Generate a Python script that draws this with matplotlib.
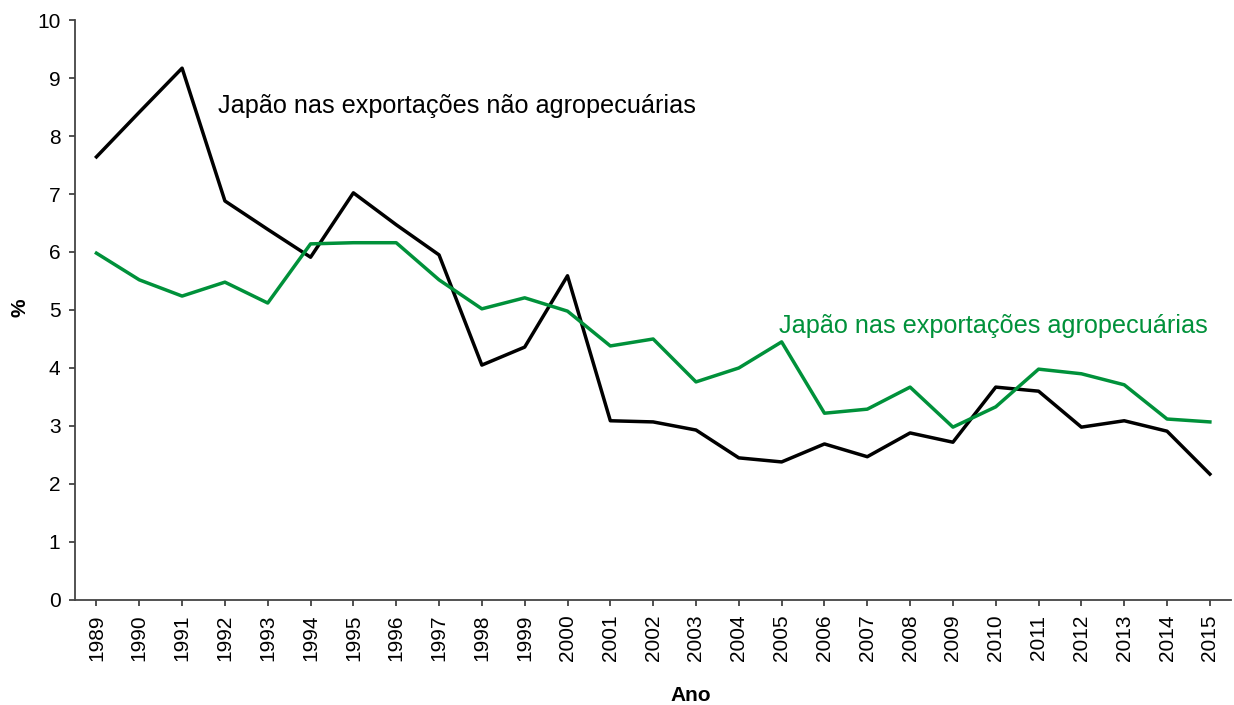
import matplotlib
matplotlib.use("Agg")
import matplotlib.pyplot as plt

plt.rcParams['font.family'] = ['Liberation Sans', 'DejaVu Sans']

# Data
anos = list(range(1989, 2016))
nao_agro = [7.64, 8.41, 9.17, 6.88, 6.39, 5.91, 7.02, 6.47, 5.95, 4.05,
            4.36, 5.59, 3.09, 3.07, 2.93, 2.45, 2.38, 2.69, 2.47, 2.88,
            2.72, 3.67, 3.60, 2.98, 3.09, 2.91, 2.17]
agro = [5.98, 5.52, 5.24, 5.48, 5.12, 6.14, 6.16, 6.16, 5.52, 5.02,
        5.21, 4.98, 4.38, 4.50, 3.76, 4.00, 4.45, 3.22, 3.29, 3.67,
        2.98, 3.33, 3.98, 3.90, 3.71, 3.12, 3.07]

verde = '#00913a'

fig = plt.figure(figsize=(12.34, 7.05), dpi=100)
ax = fig.add_axes([0.0608, 0.149, 0.937, 0.8226])

ax.plot(anos, nao_agro, color='black', lw=2.5)
ax.plot(anos, agro, color=verde, lw=2.5)

ax.text(1991.85, 8.52, "Japão nas exportações não agropecuárias", fontsize=18.2,
        color='black', va='center', ha='left')
ax.text(2004.93, 4.72, "Japão nas exportações agropecuárias", fontsize=18.2,
        color=verde, va='center', ha='left')

ax.set_xlim(1988.5, 2015.5)
ax.set_ylim(0, 10)
ax.set_xticks(anos)
ax.set_xticklabels([str(a) for a in anos], rotation=90)
ax.set_yticks(range(0, 11))
ax.tick_params(labelsize=15, length=4.5, width=1.2, color='#333333', pad=6)

for s in ['top', 'right']:
    ax.spines[s].set_visible(False)
for s in ['left', 'bottom']:
    ax.spines[s].set_linewidth(1.3)
    ax.spines[s].set_color('#444444')

ax.set_ylabel("%", fontsize=15, fontweight='bold', va='center')
ax.yaxis.set_label_coords(-0.0475, 0.503)
ax.set_xlabel("Ano", fontsize=15, fontweight='bold', va='center')
ax.xaxis.set_label_coords(0.5325, -0.1655)

fig.savefig("out.png", dpi=100)
